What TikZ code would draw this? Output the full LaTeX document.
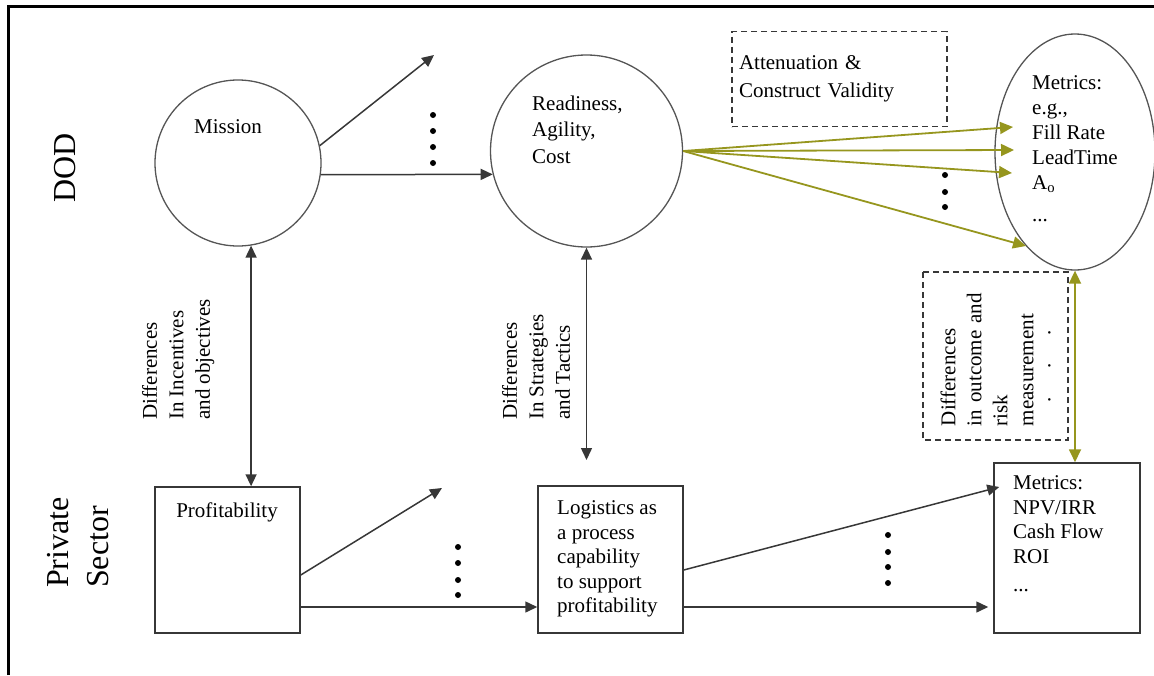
\documentclass[tikz,border=0pt]{standalone}
\usepackage{fontspec}
\setmainfont{Liberation Serif}
\usetikzlibrary{arrows.meta,shapes.geometric}
\definecolor{olivec}{RGB}{150,150,30}
\definecolor{linec}{RGB}{55,55,55}
\definecolor{circc}{RGB}{85,85,85}
\begin{document}
\begin{tikzpicture}[x=1pt,y=-1pt,
  txt/.style={inner sep=0pt, font=\fontsize{21}{24.5}\selectfont, align=left},
  bigtxt/.style={inner sep=0pt, font=\fontsize{32}{40}\selectfont, align=left},
  circ/.style={circle, draw=circc, line width=1.3pt, inner sep=0pt},
  ell/.style={ellipse, draw=circc, line width=1.3pt, inner sep=0pt},
  sbox/.style={rectangle, draw=linec, line width=1.5pt, inner sep=0pt},
  dbox/.style={rectangle, draw=linec, dash pattern=on 6pt off 4pt, line width=1.3pt},
  conn/.style={draw=linec, line width=1.5pt, -{Triangle[length=12pt,width=11pt]}},
  dconn/.style={draw=linec, line width=1.5pt, {Triangle[length=12pt,width=11pt]}-{Triangle[length=12pt,width=11pt]}},
  oconn/.style={draw=olivec, line width=1.8pt, -{Triangle[length=13pt,width=12pt]}},
  odconn/.style={draw=olivec, line width=1.8pt, {Triangle[length=13pt,width=12pt]}-{Triangle[length=13pt,width=12pt]}},
  dot/.style={fill=black}
]
\useasboundingbox (0,0) rectangle (1154,675);
% frame
\draw[line width=3pt] (8.5,675) -- (8.5,6) -- (1154,6);

% row labels
\node[bigtxt, rotate=90] (dod) at (65,168) {DOD};
\node[bigtxt, rotate=90, anchor=north west] (priv) at (47,588) {Private\\Sector};

% DOD row
\node[circ, minimum size=166pt] (mission) at (238,163) {};
\node[txt, anchor=base] (missiont) at (228,133) {Mission};
\node[circ, minimum size=192pt] (readiness) at (586.5,151) {};
\node[txt, anchor=north west, font=\fontsize{21}{26.5}\selectfont] (readt) at (532,95.5) {Readiness,\\Agility,\\Cost};
\node[ell, minimum width=160pt, minimum height=236pt] (metrics) at (1075,152) {};
\node[txt, anchor=north west, font=\fontsize{21}{25}\selectfont] (metricst) at (1032,75.5)
  {Metrics:\\e.g.,\\Fill Rate\\LeadTime\\A\textsubscript{o}\\[7pt]...};
\node[dbox, txt, minimum width=215pt, minimum height=95pt, text width=201pt, inner xsep=7pt] (attn) at (839.5,79)
  {Attenuation \&\\[4pt]Construct Validity};

% Private row
\node[sbox, minimum width=145pt, minimum height=146pt] (profbox) at (227.5,560) {};
\node[txt, anchor=base] (proft) at (227,517) {Profitability};
\node[sbox, minimum width=145pt, minimum height=147pt] (logbox) at (610.5,559.5) {};
\node[txt, anchor=north west] (logt) at (557,500.5) {Logistics as\\a process\\capability\\to support\\profitability};
\node[sbox, minimum width=146pt, minimum height=170pt] (mbox) at (1067,548) {};
\node[txt, anchor=north west] (mboxt) at (1013,475.5) {Metrics:\\NPV/IRR\\Cash Flow\\ROI\\[4pt]...};

% vertical labels
\node[txt, rotate=90, anchor=north west, font=\fontsize{21}{26.5}\selectfont] (incent) at (142,420)
  {Differences\\In Incentives\\and objectives};
\node[txt, rotate=90, anchor=north west, font=\fontsize{21}{26.5}\selectfont] (strat) at (502,420)
  {Differences\\In Strategies\\and Tactics};
\node[dbox, txt, rotate=90, font=\fontsize{21}{26}\selectfont, minimum width=168pt, minimum height=145pt,
  text width=140pt, inner xsep=14pt] (diffbox) at (995.5,356)
  {Differences\\in outcome and\\risk\\measurement\\[-9pt]\hspace*{24pt}.\hspace{28pt}.\hspace{28pt}.};

% free ends
\coordinate (m0) at (434,55);
\coordinate (p1) at (442,488);
\coordinate (st) at (586.5,460);
\coordinate (t1) at (1013,127);
\coordinate (t2) at (1014,150);
\coordinate (t3) at (1012,173);
\coordinate (t4) at (1026,246);

% connectors DOD row
\draw[conn] (mission.12) -- (m0);
\draw[conn] (mission.-8.3) -- (readiness.194.5);
\draw[oconn] (readiness.east) -- (t1);
\draw[oconn] (readiness.east) -- (t2);
\draw[oconn] (readiness.east) -- (t3);
\draw[oconn] (readiness.east) -- (t4);

% vertical connectors
\draw[dconn] (mission.-81.7) -- (mission.-81.7 |- profbox.north);
\draw[dconn] (readiness.south) -- (st);
\draw[odconn] (metrics.south) -- (metrics.south |- mbox.north);

% connectors private row
\draw[conn] ([yshift=-15pt]profbox.east) -- (p1);
\draw[conn] ([yshift=-47pt]profbox.east) -- ([yshift=-47.5pt]logbox.west);
\draw[conn] ([yshift=-10.5pt]logbox.east) -- ([xshift=6pt,yshift=61pt]mbox.west);
\draw[conn, shorten >=5pt] ([yshift=-47.5pt]logbox.east) -- ([yshift=-59pt]mbox.west);

% dots
\foreach \yy in {115,131,147,163} \fill[dot] (433,\yy) circle (3pt);
\foreach \yy in {175,192,207} \fill[dot] (945,\yy) circle (3pt);
\foreach \yy in {547,563,580,595} \fill[dot] (458,\yy) circle (3pt);
\foreach \yy in {535,552,567,583} \fill[dot] (888,\yy) circle (3pt);
\end{tikzpicture}
\end{document}
